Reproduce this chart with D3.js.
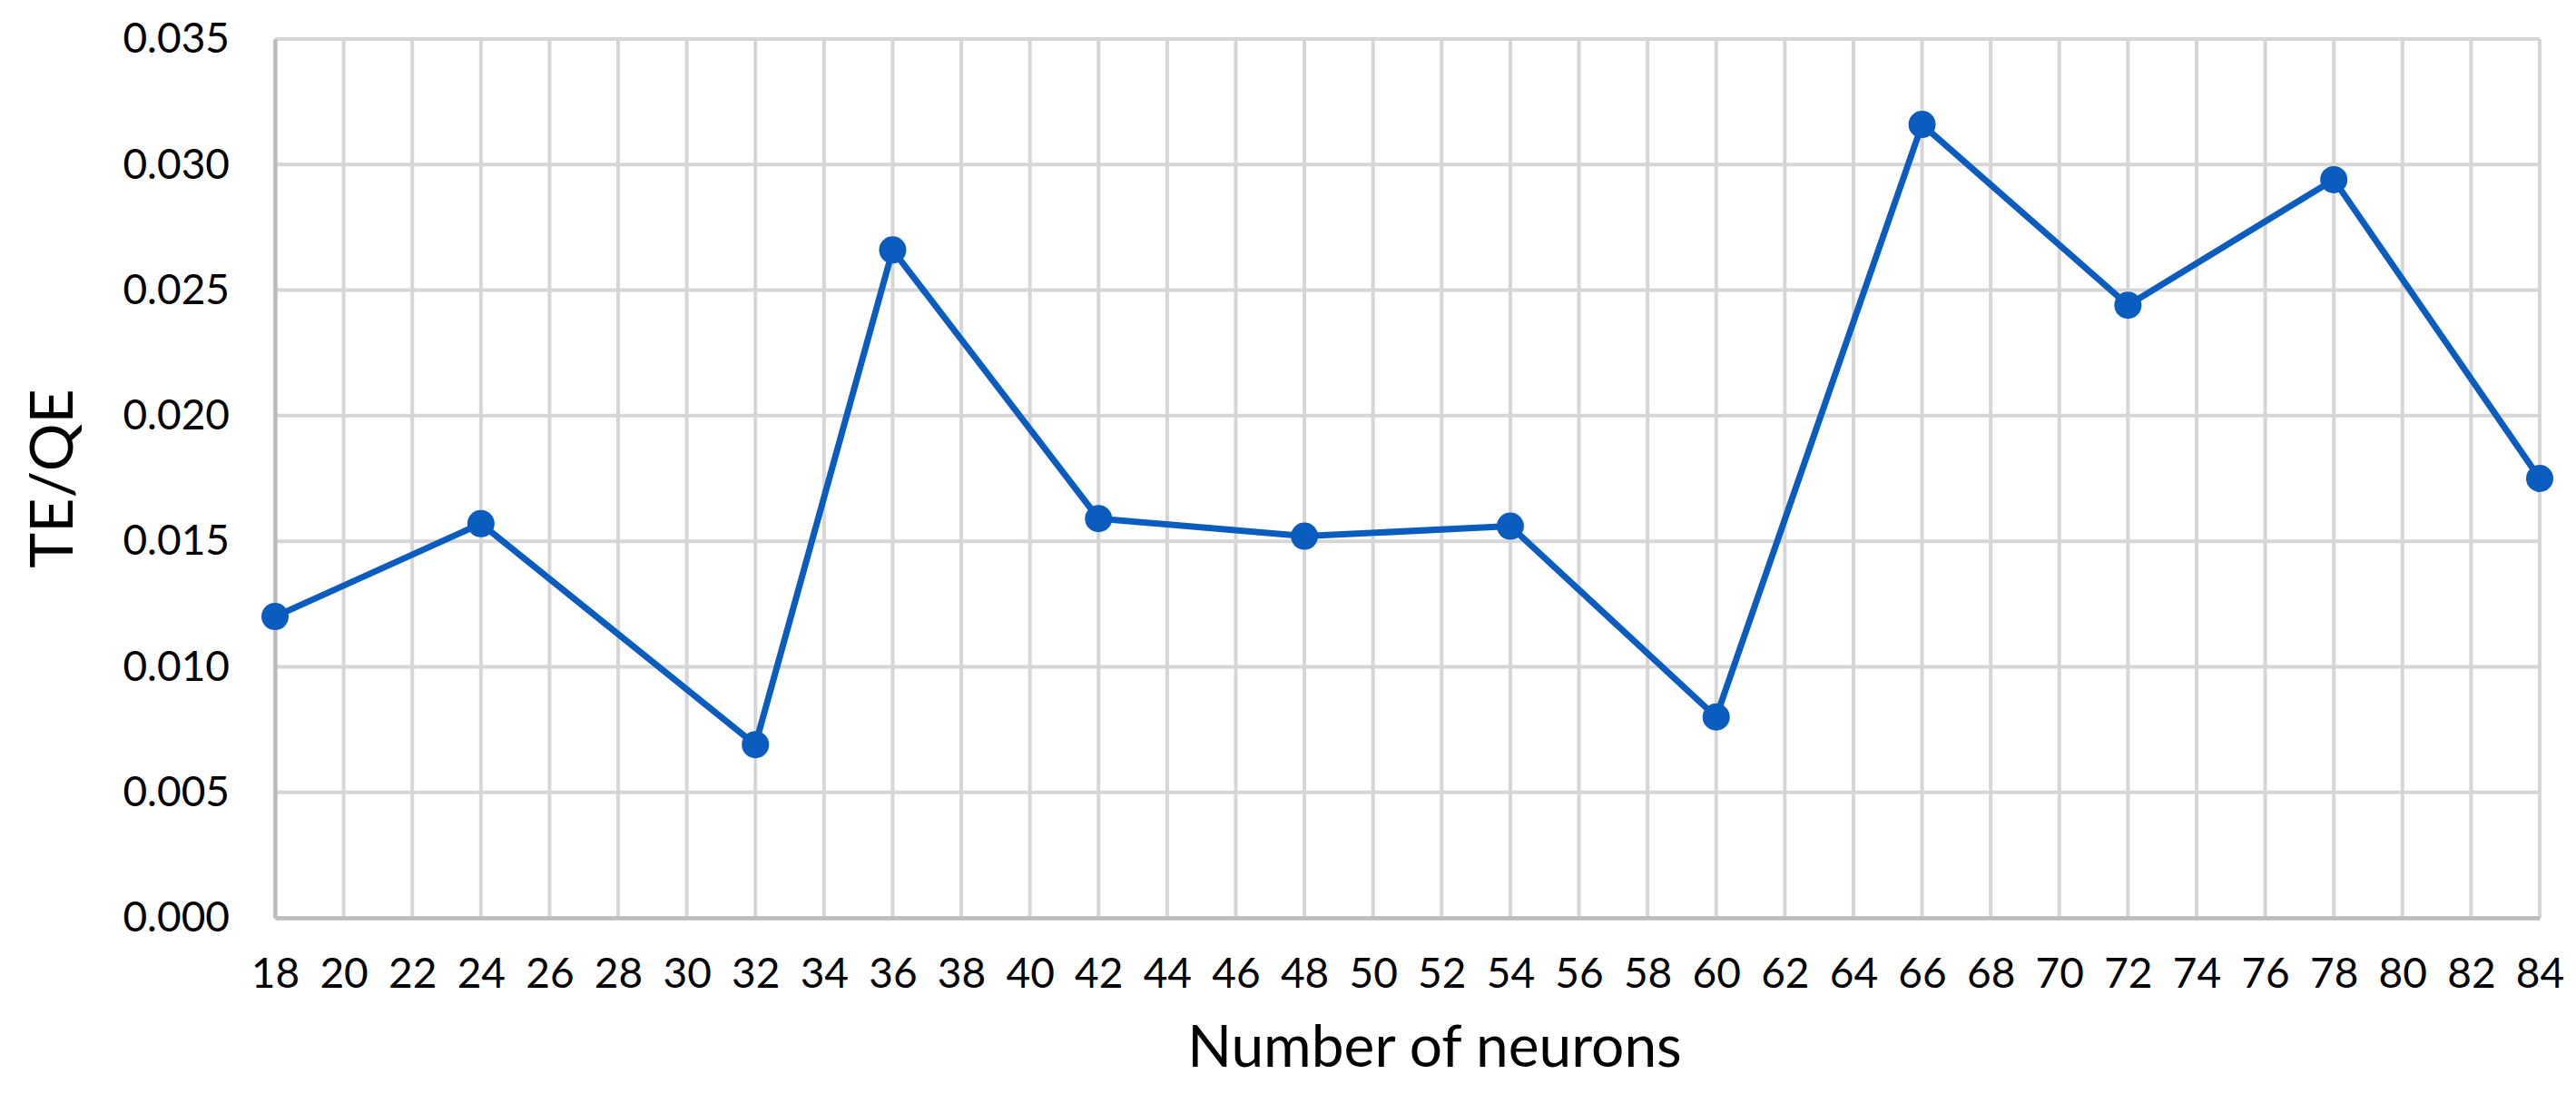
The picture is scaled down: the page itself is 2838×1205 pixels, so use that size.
<!DOCTYPE html>
<html><head><meta charset="utf-8">
<script src="https://cdn.jsdelivr.net/npm/d3@7"></script>
<style>
html,body{margin:0;padding:0;background:#fff;}
svg text{font-family:"Lato","Open Sans",sans-serif;fill:#000;}
</style></head>
<body>
<svg id="chart" width="2838" height="1205"></svg>
<script>
// Data
const categories = d3.range(18, 85, 2); // 18..84 category labels
const neurons = [18, 24, 32, 36, 42, 48, 54, 60, 66, 72, 78, 84];
const teqe    = [0.0120, 0.0157, 0.0069, 0.0266, 0.0159, 0.0152, 0.0156, 0.0080, 0.0316, 0.0244, 0.0294, 0.0175];
const yTicks  = [0, 0.005, 0.010, 0.015, 0.020, 0.025, 0.030, 0.035];
const xTitle = "Number of neurons";
const yTitle = "TE/QE";

const W = 2838, H = 1205;
const m = {left: 303, right: 40, top: 43, bottom: 194};
const svg = d3.select("#chart");

const x = d3.scaleLinear().domain([18, 84]).range([m.left, W - m.right]);
const y = d3.scaleLinear().domain([0, 0.035]).range([H - m.bottom, m.top]);

const gridColor = "#d6d6d6";
const axisColor = "#bcbcbc";
const blue = "#0a5cbf";

// vertical gridlines
svg.append("g").selectAll("line").data(categories).join("line")
  .attr("x1", d => x(d)).attr("x2", d => x(d))
  .attr("y1", y(0.035)).attr("y2", y(0))
  .attr("stroke", gridColor).attr("stroke-width", 4);
// horizontal gridlines
svg.append("g").selectAll("line").data(yTicks).join("line")
  .attr("x1", x(18)).attr("x2", x(84))
  .attr("y1", d => y(d)).attr("y2", d => y(d))
  .attr("stroke", gridColor).attr("stroke-width", 4);

// y axis
const yAxis = d3.axisLeft(y).tickValues(yTicks).tickFormat(d3.format(".3f")).tickSize(0).tickPadding(50);
const gy = svg.append("g").attr("transform", `translate(${x(18)},0)`).call(yAxis);
gy.select(".domain").attr("stroke", axisColor).attr("stroke-width", 4.5);
gy.selectAll("text").attr("font-size", 46).attr("font-family", "Lato").attr("fill", "#111");

// x axis
const xAxis = d3.axisBottom(x).tickValues(categories).tickFormat(d3.format("d")).tickSize(0).tickPadding(44);
const gx = svg.append("g").attr("transform", `translate(0,${y(0)})`).call(xAxis);
gx.select(".domain").attr("stroke", axisColor).attr("stroke-width", 4.5);
gx.selectAll("text").attr("font-size", 46).attr("font-family", "Lato").attr("fill", "#111");

// line
const pts = neurons.map((n, i) => ({n, v: teqe[i]}));
svg.append("path").datum(pts)
  .attr("d", d3.line().x(d => x(d.n)).y(d => y(d.v)))
  .attr("fill", "none").attr("stroke", blue).attr("stroke-width", 7)
  .attr("stroke-linejoin", "round");
svg.append("g").selectAll("circle").data(pts).join("circle")
  .attr("cx", d => x(d.n)).attr("cy", d => y(d.v)).attr("r", 15)
  .attr("fill", blue);

// titles
svg.append("text").attr("x", (x(18) + x(84)) / 2 + 30).attr("y", 1175)
  .attr("text-anchor", "middle").attr("font-size", 64).text(xTitle);
svg.append("text").attr("transform", `translate(80,${(y(0) + y(0.035)) / 2}) rotate(-90)`)
  .attr("text-anchor", "middle").attr("font-size", 66).text(yTitle);
</script>
</body></html>
